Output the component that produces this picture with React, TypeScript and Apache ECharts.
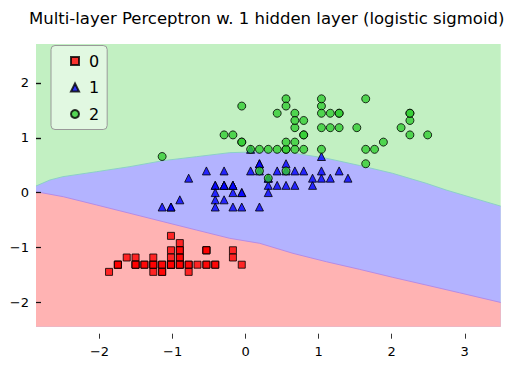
import React, { useEffect, useRef } from "react";
import * as echarts from "echarts";

const TITLE = "Multi-layer Perceptron w. 1 hidden layer (logistic sigmoid)";
const CLASS_NAMES = ["0", "1", "2"];
const X_TICKS = [-2, -1, 0, 1, 2, 3];
const Y_TICKS = [-2, -1, 0, 1, 2];
const X_RANGE = [-2.87, 3.492];
const Y_RANGE = [-2.445, 2.711];

// class 0 (standardized feature 1, feature 2)
const class0: [number, number][] = [
  [-0.901, -1.314], [-1.143, -1.314], [-1.386, -1.314], [-1.507, -1.314], [-1.022, -1.314],
  [-0.537, -1.051], [-1.507, -1.183], [-1.022, -1.314], [-1.749, -1.314], [-1.143, -1.445],
  [-0.537, -1.314], [-1.264, -1.314], [-1.264, -1.445], [-1.870, -1.445], [-0.053, -1.314],
  [-0.174, -1.051], [-0.537, -1.051], [-0.901, -1.183], [-0.174, -1.183], [-0.901, -1.183],
  [-0.537, -1.314], [-0.901, -1.051], [-1.507, -1.314], [-0.901, -0.920], [-1.264, -1.314],
  [-1.022, -1.314], [-1.022, -1.051], [-0.780, -1.314], [-0.780, -1.314], [-1.386, -1.314],
  [-1.264, -1.314], [-0.537, -1.051], [-0.780, -1.445], [-0.416, -1.314], [-1.143, -1.314],
  [-1.022, -1.314], [-0.416, -1.314], [-1.143, -1.445], [-1.749, -1.314], [-0.901, -1.314],
  [-1.022, -1.183], [-1.628, -1.183], [-1.749, -1.314], [-1.022, -0.788], [-0.901, -1.051],
  [-1.264, -1.183], [-0.901, -1.314], [-1.507, -1.314], [-0.659, -1.314], [-1.022, -1.314],
];

const class1: [number, number][] = [
  [1.401, 0.264], [0.674, 0.396], [1.280, 0.396], [-0.416, 0.133], [0.795, 0.396],
  [-0.174, 0.133], [0.553, 0.527], [-1.143, -0.262], [0.916, 0.133], [-0.780, 0.264],
  [-1.022, -0.262], [0.068, 0.396], [0.189, -0.262], [0.310, 0.264], [-0.295, 0.133],
  [1.038, 0.264], [-0.295, 0.396], [-0.053, -0.262], [0.432, 0.396], [-0.295, -0.131],
  [0.068, 0.790], [0.310, 0.133], [0.553, 0.396], [0.310, 0.001], [0.674, 0.133],
  [0.916, 0.264], [1.159, 0.264], [1.038, 0.659], [0.189, 0.396], [-0.174, -0.262],
  [-0.416, -0.131], [-0.416, -0.262], [-0.053, 0.001], [0.189, 0.527], [-0.537, 0.396],
  [0.189, 0.527], [1.038, 0.396], [0.553, 0.133], [-0.295, 0.133], [-0.416, 0.133],
  [-0.416, 0.001], [0.310, 0.264], [-0.053, 0.001], [-1.022, -0.262], [-0.295, 0.133],
  [-0.174, 0.001], [-0.174, 0.133], [0.432, 0.133], [-0.901, -0.131], [-0.174, 0.133],
];

const class2: [number, number][] = [
  [0.553, 1.711], [-0.053, 0.922], [1.522, 1.185], [0.553, 0.790], [0.795, 1.316],
  [2.128, 1.185], [-1.143, 0.659], [1.765, 0.790], [1.038, 0.790], [1.644, 1.711],
  [0.795, 1.053], [0.674, 0.922], [1.159, 1.185], [-0.174, 1.053], [-0.053, 1.579],
  [0.674, 1.448], [0.795, 0.790], [2.249, 1.316], [2.249, 1.448], [0.189, 0.396],
  [1.280, 1.448], [-0.295, 1.053], [2.249, 1.053], [0.553, 0.790], [1.038, 1.185],
  [1.644, 0.790], [0.432, 0.790], [0.310, 0.790], [0.674, 1.185], [1.644, 0.527],
  [1.886, 0.922], [2.492, 1.053], [0.674, 1.316], [0.553, 0.396], [0.310, 0.264],
  [2.249, 1.448], [0.553, 1.579], [0.674, 0.790], [0.189, 0.790], [1.280, 1.185],
  [1.038, 1.579], [1.280, 1.448], [-0.053, 0.922], [1.159, 1.448], [1.038, 1.711],
  [1.038, 1.448], [0.553, 0.922], [0.795, 1.053], [0.432, 1.448], [0.068, 0.790],
];

// decision boundaries (class 2 | class 1) and (class 1 | class 0)
const boundary21: [number, number][] = [
  [-2.870, 0.121], [-2.679, 0.231], [-2.501, 0.291], [-2.040, 0.382], [-1.585, 0.474],
  [-1.133, 0.583], [-0.673, 0.656], [-0.217, 0.729], [0.234, 0.747], [0.644, 0.724],
  [1.105, 0.627], [1.560, 0.495], [2.011, 0.353], [2.472, 0.171], [2.745, 0.048],
  [3.492, -0.246],
];
const boundary10: [number, number][] = [
  [-2.870, 0.017], [-2.497, -0.074], [-2.040, -0.225], [-1.585, -0.377], [-1.129, -0.530],
  [-0.673, -0.682], [-0.217, -0.833], [0.193, -0.924], [0.648, -1.107], [1.105, -1.260],
  [1.560, -1.399], [2.015, -1.545], [2.472, -1.685], [2.927, -1.826], [3.492, -2.003],
];

const FONT = "DejaVu Sans";
const fmt = (v: number) => (v < 0 ? "\u2212" + Math.abs(v) : String(v));

export default function App() {
  const ref = useRef<HTMLDivElement>(null);
  useEffect(() => {
    if (!ref.current) return;
    const chart = echarts.init(ref.current, null, { renderer: "svg" });
    const markerStyle = (color: string) => ({
      color,
      borderColor: "#000",
      borderWidth: 1,
      opacity: 0.8,
    });
    const yTick = { show: true, inside: true, length: 5, lineStyle: { color: "#111", width: 1.2 }, customValues: Y_TICKS };
    chart.setOption({
      animation: false,
      backgroundColor: "#fff",
      graphic: [
        {
          type: "text",
          x: 29,
          y: 18,
          style: {
            text: TITLE,
            align: "left",
            verticalAlign: "middle",
            textAlign: "left",
            textVerticalAlign: "middle",
            fontSize: 16.5,
            fontFamily: FONT,
            fill: "#000",
          },
        },
      ],
      grid: {
        left: 36,
        right: 18.3,
        top: 44,
        bottom: 43.3,
        show: true,
        backgroundColor: "#c2f0c2",
        borderWidth: 0,
      },
      legend: {
        data: CLASS_NAMES,
        orient: "vertical",
        left: 51,
        top: 45.5,
        itemWidth: 8,
        itemHeight: 8,
        itemGap: 10.5,
        padding: [7.5, 8, 7.5, 19],
        backgroundColor: "rgba(255,255,255,0.5)",
        borderColor: "#999",
        borderWidth: 1,
        borderRadius: 4,
        textStyle: { fontSize: 16, color: "#000", fontFamily: FONT, padding: [0, 0, 0, 5] },
      },
      xAxis: {
        type: "value",
        min: X_RANGE[0],
        max: X_RANGE[1],
        offset: 7,
        axisLine: { show: false, onZero: false },
        splitLine: { show: false },
        axisTick: { show: true, length: 5, lineStyle: { color: "#333" }, customValues: X_TICKS },
        axisLabel: {
          customValues: X_TICKS,
          formatter: fmt,
          margin: 11,
          fontSize: 13,
          color: "#000",
          fontFamily: FONT,
        },
      },
      yAxis: [
        {
          type: "value",
          position: "left",
          min: Y_RANGE[0],
          max: Y_RANGE[1],
          axisLine: { show: false, onZero: false },
          splitLine: { show: false },
          axisTick: yTick,
          axisLabel: {
            customValues: Y_TICKS,
            formatter: fmt,
            margin: 7,
            fontSize: 13,
            color: "#000",
            fontFamily: FONT,
          },
        },
        {
          type: "value",
          position: "left",
          min: Y_RANGE[0],
          max: Y_RANGE[1],
          z: 5,
          axisLine: { show: false, onZero: false },
          splitLine: { show: false },
          axisTick: yTick,
          axisLabel: { show: false },
        },
      ],
      series: [
        {
          type: "line",
          name: "region12",
          data: boundary21,
          symbol: "none",
          silent: true,
          z: 1,
          lineStyle: { color: "#8ccfc8", width: 1 },
          areaStyle: { color: "#b3b3ff", opacity: 1, origin: "start" },
        },
        {
          type: "line",
          name: "region01",
          data: boundary10,
          symbol: "none",
          silent: true,
          z: 1,
          lineStyle: { color: "#b48ce6", width: 1 },
          areaStyle: { color: "#ffb3b3", opacity: 1, origin: "start" },
        },
        {
          type: "scatter",
          name: CLASS_NAMES[0],
          data: class0,
          symbol: "rect",
          symbolSize: 7,
          z: 3,
          itemStyle: markerStyle("#ff0000"),
        },
        {
          type: "scatter",
          name: CLASS_NAMES[1],
          data: class1,
          symbol: "triangle",
          symbolSize: 8,
          z: 3,
          itemStyle: markerStyle("#0000ff"),
        },
        {
          type: "scatter",
          name: CLASS_NAMES[2],
          data: class2,
          symbol: "circle",
          symbolSize: 8,
          z: 3,
          itemStyle: markerStyle("#32cd32"),
        },
      ],
    });
    return () => chart.dispose();
  }, []);
  return (
    <div
      ref={ref}
      style={{ position: "fixed", left: 0, top: 0, width: 519, height: 370, background: "#fff" }}
    />
  );
}
